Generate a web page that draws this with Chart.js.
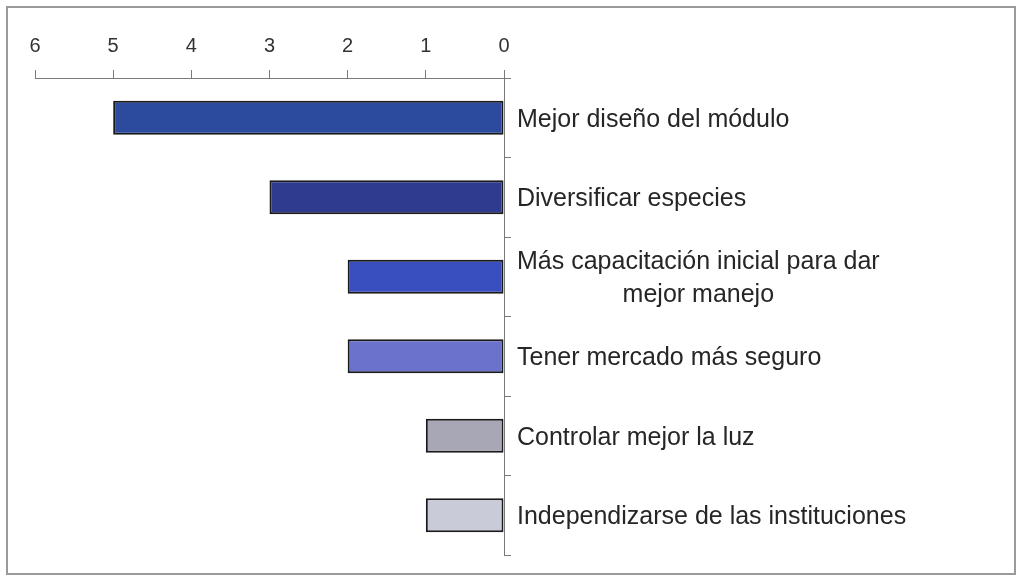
<!DOCTYPE html>
<html>
<head>
<meta charset="utf-8">
<script src="https://cdn.jsdelivr.net/npm/chart.js@4.4.0/dist/chart.umd.min.js"></script>
<style>
  html, body { margin: 0; padding: 0; background: #ffffff; }
  #wrap { width: 1018px; height: 579px; position: relative; }
</style>
</head>
<body>
<div id="wrap"><canvas id="grafica" width="1018" height="579"></canvas></div>
<script>
// Datos de la gráfica
const categorias = [
    ['Mejor diseño del módulo'],
    ['Diversificar especies'],
    ['Más capacitación inicial para dar', 'mejor manejo'],
    ['Tener mercado más seguro'],
    ['Controlar mejor la luz'],
    ['Independizarse de las instituciones']
];
const valores = [5, 3, 2, 2, 1, 1];
const ticksX = [0, 1, 2, 3, 4, 5, 6];

const coloresBarras = ['#2c4a9e', '#2f3b8f', '#3a4fbf', '#6a72cb', '#a7a7b6', '#c9cbd9'];

// Marco gris alrededor del gráfico
const marco = {
    id: 'marco',
    beforeDraw(chart) {
        const ctx = chart.ctx;
        ctx.save();
        ctx.fillStyle = '#ffffff';
        ctx.fillRect(0, 0, chart.width, chart.height);
        ctx.strokeStyle = '#9a9a9a';
        ctx.lineWidth = 2;
        ctx.strokeRect(7, 7, 1008, 567);
        ctx.restore();
    }
};

// Etiquetas de categoría a la derecha del eje (la segunda línea va centrada)
const etiquetas = {
    id: 'etiquetas',
    afterDraw(chart) {
        const ctx = chart.ctx;
        const escalaY = chart.scales.y;
        const x0 = chart.chartArea.right + 13;
        const alto = 33;
        ctx.save();
        ctx.font = '25px "Liberation Sans", Arial, sans-serif';
        ctx.fillStyle = '#262626';
        ctx.textBaseline = 'alphabetic';
        ctx.textAlign = 'left';
        categorias.forEach((lineas, i) => {
            const yc = escalaY.getPixelForValue(i);
            const anchoMax = Math.max(...lineas.map(l => ctx.measureText(l).width));
            const yIni = yc + 9 - (lineas.length - 1) * alto / 2;
            lineas.forEach((l, j) => {
                const w = ctx.measureText(l).width;
                const x = lineas.length > 1 ? x0 + (anchoMax - w) / 2 : x0;
                ctx.fillText(l, x, yIni + j * alto);
            });
        });
        ctx.restore();
    }
};

new Chart(document.getElementById('grafica'), {
    type: 'bar',
    data: {
        labels: categorias.map(c => c.join(' ')),
        datasets: [{
            data: valores,
            backgroundColor: coloresBarras,
            borderColor: '#1a1a1a',
            borderWidth: 2,
            borderSkipped: false,
            categoryPercentage: 1,
            barPercentage: 0.43
        }]
    },
    options: {
        indexAxis: 'y',
        responsive: false,
        animation: false,
        devicePixelRatio: 1,
        layout: { padding: { left: 35, top: 18, bottom: 24, right: 0 } },
        plugins: {
            legend: { display: false },
            tooltip: { enabled: false }
        },
        scales: {
            x: {
                position: 'top',
                reverse: true,
                min: 0,
                max: 6,
                afterBuildTicks: s => { s.ticks = ticksX.map(v => ({ value: v })); },
                afterFit: s => { s.height = 60; },
                ticks: {
                    color: '#333333',
                    font: { family: '"Liberation Sans", Arial, sans-serif', size: 20 },
                    padding: 12
                },
                grid: {
                    drawOnChartArea: false,
                    drawTicks: true,
                    tickLength: 8,
                    color: '#7a7a7a'
                },
                border: { color: '#7a7a7a', width: 1 }
            },
            y: {
                position: 'right',
                offset: true,
                afterFit: s => { s.width = 514; },
                ticks: { display: false },
                grid: {
                    offset: true,
                    drawOnChartArea: false,
                    drawTicks: true,
                    tickLength: 7,
                    color: '#7a7a7a'
                },
                border: { color: '#7a7a7a', width: 1 }
            }
        }
    },
    plugins: [marco, etiquetas]
});
</script>
</body>
</html>
